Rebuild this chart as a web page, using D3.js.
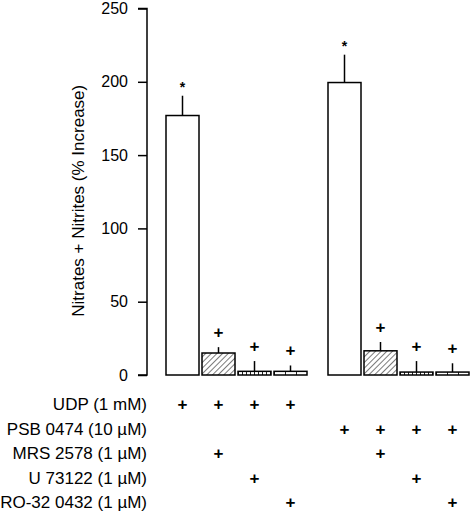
<!DOCTYPE html>
<html>
<head>
<meta charset="utf-8">
<script src="https://cdn.jsdelivr.net/npm/d3@7"></script>
<style>
  body { margin: 0; background: #fff; }
  text { font-family: "Liberation Sans", Arial, sans-serif; fill: #000; }
</style>
</head>
<body>
<div id="chart-container"></div>
<script>
// data
const conditions = ["UDP", "UDP+MRS", "UDP+U73122", "UDP+RO", "PSB", "PSB+MRS", "PSB+U73122", "PSB+RO"];
const groups = [0, 0, 0, 0, 1, 1, 1, 1];
const means = [177, 15, 2.5, 2.5, 199.5, 16.5, 2, 2];
const errors = [13.5, 4, 7, 4, 19, 6, 7.5, 6];
const marks = ["*", "+", "+", "+", "*", "+", "+", "+"];
const yTicks = [0, 50, 100, 150, 200, 250];
const rowLabels = ["UDP (1 mM)", "PSB 0474 (10 µM)", "MRS 2578 (1 µM)", "U 73122 (1 µM)", "RO-32 0432 (1 µM)"];
// which treatments go with each bar (1 = "+")
const table = [
  [1, 1, 1, 1, 0, 0, 0, 0],
  [0, 0, 0, 0, 1, 1, 1, 1],
  [0, 1, 0, 0, 0, 1, 0, 0],
  [0, 0, 1, 0, 0, 0, 1, 0],
  [0, 0, 0, 1, 0, 0, 0, 1]
];

const fills = ["#fff", "url(#hatch)", "url(#fine)", "url(#coarse)", "#fff", "url(#hatch)", "url(#fine)", "url(#coarse)"];

const svgWidth = 472;
const svgHeight = 512;
const barWidth = 33;

const svg = d3.select("#chart-container")
  .append("svg")
  .attr("width", svgWidth)
  .attr("height", svgHeight);

// patterns for the small bars
const defs = svg.append("defs");
const hatch = defs.append("pattern")
  .attr("id", "hatch")
  .attr("patternUnits", "userSpaceOnUse")
  .attr("width", 4).attr("height", 4)
  .attr("patternTransform", "rotate(45)");
hatch.append("rect").attr("width", 4).attr("height", 4).attr("fill", "#fff");
hatch.append("line").attr("x1", 0).attr("y1", 0).attr("x2", 0).attr("y2", 4)
  .attr("stroke", "#222").attr("stroke-width", 1.2);

const fine = defs.append("pattern")
  .attr("id", "fine")
  .attr("patternUnits", "userSpaceOnUse")
  .attr("width", 4).attr("height", 8);
fine.append("rect").attr("width", 4).attr("height", 8).attr("fill", "#fff");
fine.append("line").attr("x1", 0.5).attr("y1", 0).attr("x2", 0.5).attr("y2", 8)
  .attr("stroke", "#222").attr("stroke-width", 1);

const coarse = defs.append("pattern")
  .attr("id", "coarse")
  .attr("patternUnits", "userSpaceOnUse")
  .attr("width", 11).attr("height", 8);
coarse.append("rect").attr("width", 11).attr("height", 8).attr("fill", "#fff");
coarse.append("line").attr("x1", 0.5).attr("y1", 0).attr("x2", 0.5).attr("y2", 8)
  .attr("stroke", "#222").attr("stroke-width", 1);

// scales
const yScale = d3.scaleLinear().domain([0, 250]).range([375, 8.5]);
// slot index, second group shifted by half a slot
const xScale = d3.scaleLinear().domain([0, 1]).range([166, 202]);
const slot = i => i + groups[i] * 0.5;
const rowScale = d3.scalePoint().domain(rowLabels).range([404, 502]);

// y axis
const yAxis = d3.axisLeft(yScale).tickValues(yTicks).tickSize(9).tickPadding(10);
const gAxis = svg.append("g")
  .attr("transform", "translate(147,0)")
  .call(yAxis);
gAxis.select(".domain").attr("stroke", "#000").attr("stroke-width", 1.5)
  .attr("d", `M-9,${yScale(250)}H0V${yScale(0)}H-9`);
gAxis.selectAll(".tick line").attr("stroke", "#000").attr("stroke-width", 1.5);
gAxis.selectAll(".tick text")
  .style("font-size", "16px")
  .attr("fill", "#000");

svg.append("text")
  .text("Nitrates + Nitrites (% Increase)")
  .attr("transform", `translate(84,${(yScale(0) + yScale(250)) / 2 + 9}) rotate(-90)`)
  .attr("text-anchor", "middle")
  .style("font-size", "17px");

// bars
const bar = svg.selectAll("g.bar")
  .data(conditions)
  .join("g")
  .attr("class", "bar")
  .attr("transform", (d, i) => `translate(${xScale(slot(i))},0)`);

// error bars (upper only, no cap)
bar.append("line")
  .attr("x1", barWidth / 2).attr("x2", barWidth / 2)
  .attr("y1", (d, i) => yScale(means[i]))
  .attr("y2", (d, i) => yScale(means[i] + errors[i]))
  .attr("stroke", "#000")
  .attr("stroke-width", 1.5);

bar.append("rect")
  .attr("x", 0)
  .attr("y", (d, i) => yScale(means[i]))
  .attr("width", barWidth)
  .attr("height", (d, i) => yScale(0) - yScale(means[i]))
  .attr("fill", (d, i) => fills[i])
  .attr("stroke", "#000")
  .attr("stroke-width", 1.5);

bar.append("text")
  .text((d, i) => marks[i])
  .attr("x", barWidth / 2)
  .attr("y", (d, i) => yScale(means[i] + errors[i]) - (marks[i] === "*" ? 4 : 9))
  .attr("text-anchor", "middle")
  .style("font-size", (d, i) => marks[i] === "*" ? "14px" : "17px")
  .style("font-weight", "bold");

// treatment table
svg.selectAll("text.row")
  .data(rowLabels)
  .join("text")
  .attr("class", "row")
  .text(d => d)
  .attr("x", 147)
  .attr("y", d => rowScale(d) + 6)
  .attr("text-anchor", "end")
  .style("font-size", "17px");

rowLabels.forEach((label, r) => {
  svg.selectAll(`text.plus${r}`)
    .data(conditions.map((c, i) => i).filter(i => table[r][i]))
    .join("text")
    .attr("class", `plus${r}`)
    .text("+")
    .attr("x", i => xScale(slot(i)) + barWidth / 2)
    .attr("y", rowScale(label) + 6)
    .attr("text-anchor", "middle")
    .style("font-size", "17px")
    .style("font-weight", "bold");
});
</script>
</body>
</html>
